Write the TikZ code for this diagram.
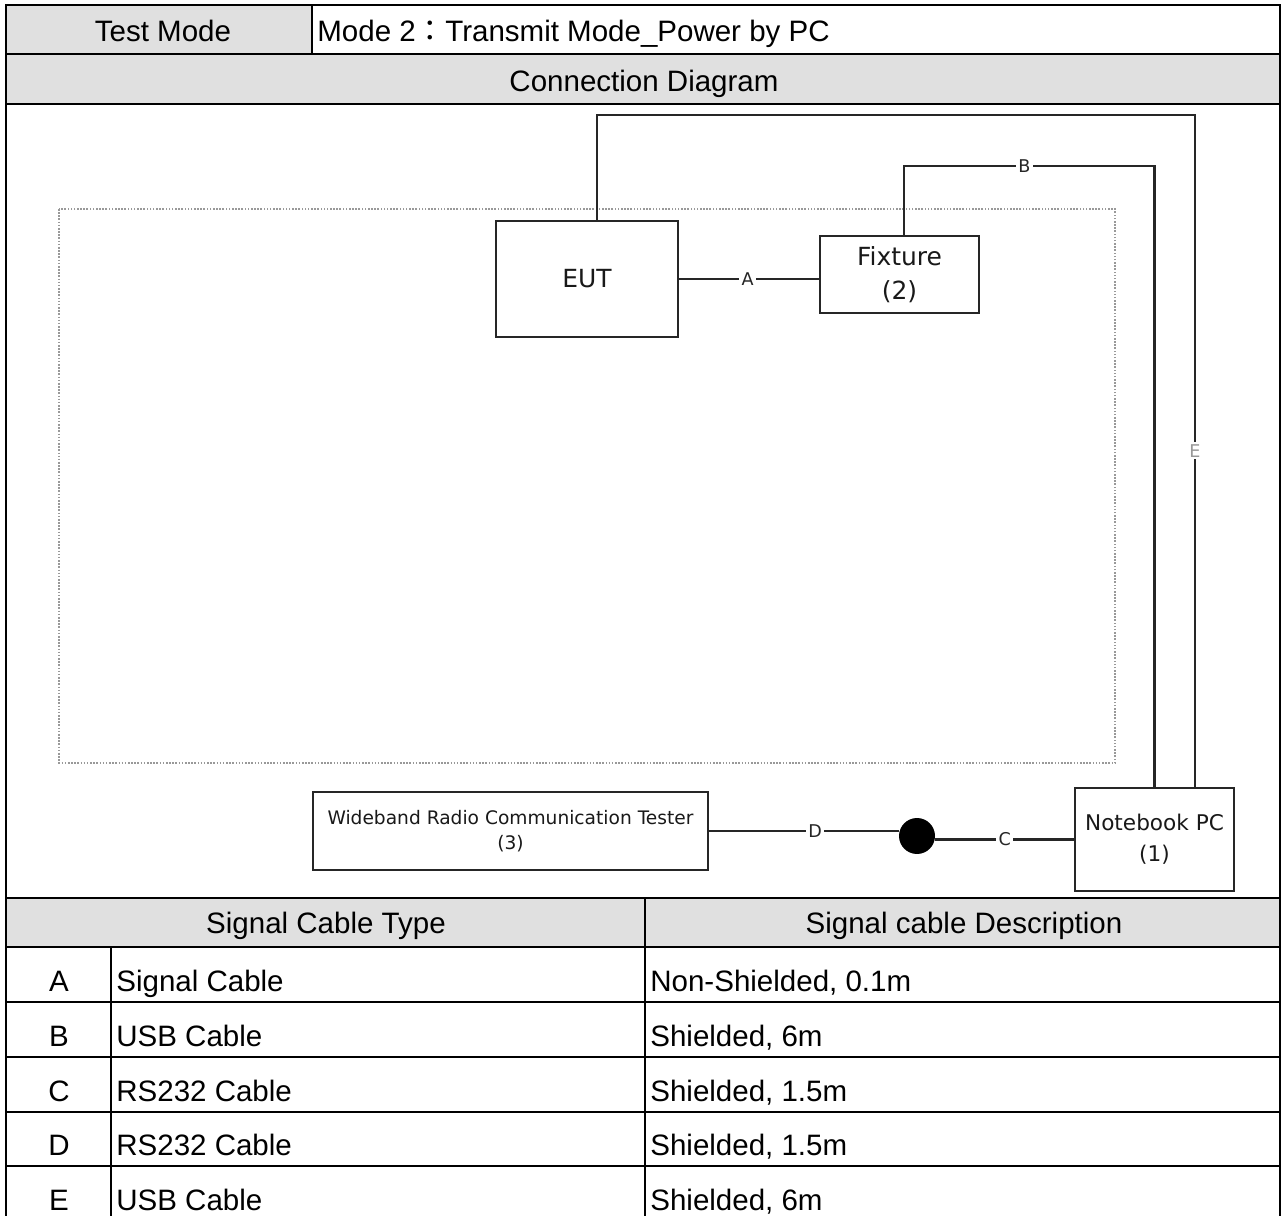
\documentclass[tikz,border=0pt]{standalone}
\usepackage{fontspec}
\setmainfont{Liberation Sans}
\newfontfamily\diagfont{DejaVu Sans}
\newfontfamily\cjk{Noto Sans CJK TC}
\usepackage{tikz}

\tikzset{
  rule/.style={line width=1.1pt},
  head/.style={fill=black!12},
  txt/.style={font=\fontsize{16.8}{19}\selectfont, inner sep=0pt, text height=12pt, text depth=0pt},
  unit/.style={draw=black!85, line width=1.2pt, fill=white, align=center, inner sep=0pt, text=black!90},
  cable/.style={draw=black!85, line width=1.2pt},
  lbl/.style={fill=white, inner sep=1.2pt, text=black!85, font=\diagfont\fontsize{10}{12}\selectfont},
}

\begin{document}
\begin{tikzpicture}[x=0.02cm, y=-0.02cm]
        \useasboundingbox (0,0) rectangle (1282,1216);

        % shaded header cells
        \fill[head] (6,5) rectangle (312,54);
        \fill[head] (6,54) rectangle (1280,104);
        \fill[head] (6,898) rectangle (1280,947);

        % table rules
        \draw[rule] (6,1216) -- (6,5) -- (1280,5) -- (1280,1216);
        \foreach \y in {54,104,898,947,1002,1057,1112,1166}
            \draw[rule] (6,\y) -- (1280,\y);
        \draw[rule] (312,5) -- (312,54);
        \draw[rule] (645,898) -- (645,1216);
        \draw[rule] (111,947) -- (111,1216);

        \node[txt] (mode) at (163,31) {Test Mode};
        \node[txt, anchor=west] (modeval) at (317,31) {Mode 2{\cjk ：}Transmit Mode\_Power by PC};
        \node[txt] (conn) at (644,81) {Connection Diagram};
        \node[txt] (typehd) at (326,923) {Signal Cable Type};
        \node[txt] (deschd) at (964,923) {Signal cable Description};

        \foreach \k/\t/\d [count=\i from 0] in {A/Signal Cable/{Non-Shielded, 0.1m},
                B/USB Cable/{Shielded, 6m}, C/RS232 Cable/{Shielded, 1.5m},
                D/RS232 Cable/{Shielded, 1.5m}, E/USB Cable/{Shielded, 6m}} {
            \node[txt] (key\k) at (59,981+54.8*\i) {\k};
            \node[txt, anchor=west] (type\k) at (116,981+54.8*\i) {\t};
            \node[txt, anchor=west] (desc\k) at (650,981+54.8*\i) {\d};
        }

        % test table outline
        \draw[black!40, line width=0.9pt, dash pattern=on 0.9pt off 0.9pt] (59,209) rectangle (1115,763);

        % units
        \node[unit, minimum width=3.64cm, minimum height=2.32cm, font=\diagfont\fontsize{14.2}{17}\selectfont] (EUT) at (587,279) {EUT};
        \node[unit, minimum width=3.18cm, minimum height=1.54cm, font=\diagfont\fontsize{14.2}{19.3}\selectfont] (fixture) at (899.5,274.5) {Fixture\\(2)};
        \node[unit, minimum width=3.18cm, minimum height=2.06cm, font=\diagfont\fontsize{12.3}{17.6}\selectfont] (pc) at (1154.5,839.5) {Notebook PC\\(1)};
        \node[unit, minimum width=7.9cm, minimum height=1.56cm, font=\diagfont\fontsize{10.6}{14.2}\selectfont] (tester) at (510.5,831) {Wideband Radio Communication Tester\\(3)};
        \node[circle, fill=black, minimum size=0.72cm, inner sep=0pt] (joint) at (917,836) {};

        % cables
        \coordinate (etop) at (1195,115);
        \coordinate (btop) at (1154.5,166);
        \draw[cable] (EUT.east) -- node[lbl, pos=0.49] {A} (EUT.east -| fixture.west);
        \draw[cable] (fixture.83) |- node[lbl, pos=0.74] {B} (btop) -- (pc.north);
        \draw[cable] (joint.east |- pc.west) -- node[lbl, pos=0.5] {C} (pc.west);
        \draw[cable] (tester.east) -- node[lbl, pos=0.56] {D} (tester.east -| joint.west);
        \draw[cable] (EUT.80) |- (etop) -- node[lbl, text=black!40] {E} (etop |- pc.north);
    \end{tikzpicture}
\end{document}
